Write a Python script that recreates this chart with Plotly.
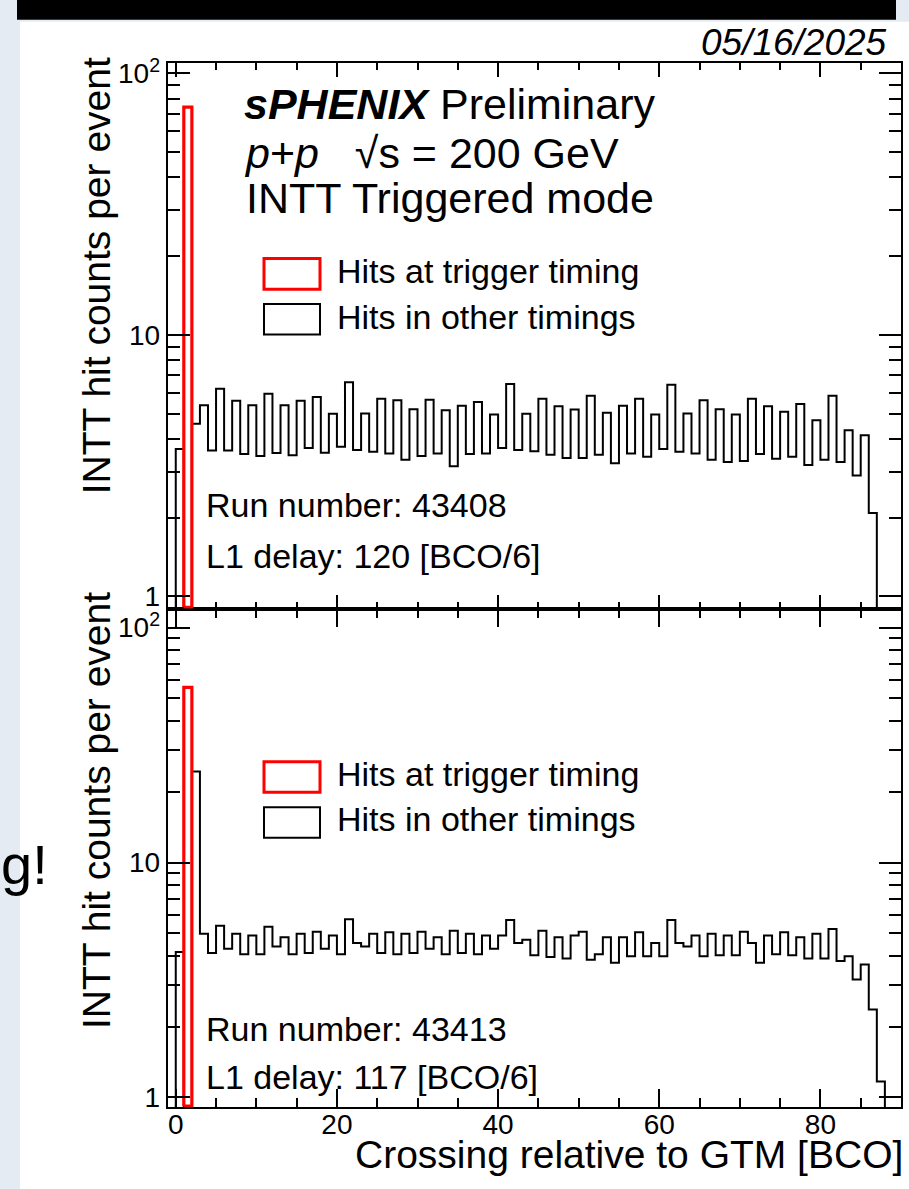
import plotly.graph_objects as go

W, H = 909, 1189

# ---------------- data ----------------
# bin k spans [k, k+1] in "Crossing relative to GTM [BCO]"
top_other_counts = [3.66, 0, 4.57, 5.38, 3.61, 6.22, 3.61, 5.60, 3.50, 5.38, 3.44, 5.95, 3.53, 5.38,
                    3.46, 5.60, 3.69, 5.78, 3.54, 4.99, 3.73, 6.59, 3.63, 5.00, 3.57, 5.70, 3.52, 5.62,
                    3.33, 5.19, 3.44, 5.65, 3.52, 5.15, 3.14, 5.35, 3.50, 5.54, 3.52, 4.96, 3.69, 6.49,
                    3.63, 4.99, 3.59, 5.70, 3.48, 5.33, 3.38, 5.18, 3.38, 5.85, 3.48, 5.03, 3.23, 5.36,
                    3.52, 5.70, 3.42, 4.96, 3.66, 6.44, 3.57, 5.00, 3.52, 5.62, 3.33, 5.19, 3.26, 4.96,
                    3.29, 5.70, 3.50, 5.33, 3.36, 5.08, 3.42, 5.44, 3.18, 4.71, 3.33, 5.85, 3.26, 4.32,
                    2.90, 4.13, 2.08]
bottom_other_counts = [4.16, 0, 24.4, 4.97, 4.12, 5.38, 4.30, 4.97, 4.07, 4.89, 4.07, 5.33, 4.39, 4.81,
                       4.07, 4.97, 4.12, 5.08, 4.30, 4.89, 4.07, 5.74, 4.54, 4.39, 4.97, 4.12, 5.05, 4.07,
                       4.97, 4.12, 5.08, 4.30, 4.81, 4.07, 5.13, 4.12, 4.97, 4.07, 4.89, 4.30, 4.89, 5.70,
                       4.54, 4.69, 4.03, 5.13, 3.96, 4.81, 3.90, 4.89, 5.08, 3.86, 4.07, 4.81, 3.74, 4.81,
                       3.99, 5.05, 3.99, 4.54, 3.99, 5.70, 4.54, 4.39, 4.89, 3.99, 4.97, 4.03, 4.89, 4.03,
                       5.08, 4.54, 3.74, 4.89, 4.07, 5.05, 4.03, 4.81, 3.90, 4.97, 3.90, 5.21, 3.81, 3.99,
                       3.18, 3.68, 2.37, 1.17]
trigger_bin = [1]
top_trigger_counts = [74.4]
bottom_trigger_counts = [55.6]

x_range = [-1, 90]
top_log_range = [-0.047, 2.039]
bottom_log_range = [-0.042, 2.081]
y_tickvals = [1, 10, 100]
y_ticktext = ["1", "10", "10<sup>2</sup>"]
y_minor_vals = [2, 3, 4, 5, 6, 7, 8, 9, 20, 30, 40, 50, 60, 70, 80, 90]

FONT = "Liberation Sans, Arial, Helvetica, sans-serif"
SLIDE = "#e4ebf2"


def px_x(p):   # window pixel -> paper fraction
    return p / W


def px_y(p):
    return 1 - p / H


def step_xy(counts, floor):
    xs = [0]
    ys = [floor]
    for k, c in enumerate(counts):
        xs.append(k)
        ys.append(c if c > 0 else floor)
    xs.append(len(counts))
    ys.append(floor)
    return xs, ys


def box_xy(bins, counts, bottom):
    xs, ys = [], []
    for b, c in zip(bins, counts):
        xs += [b, b, b + 1, b + 1, b, None]
        ys += [bottom, c, c, bottom, bottom, None]
    return xs, ys


fig = go.Figure()

floor = 0.05
for counts, trig, xa, ya, lr in [
    (top_other_counts, top_trigger_counts, "x2", "y2", top_log_range),
    (bottom_other_counts, bottom_trigger_counts, "x", "y", bottom_log_range),
]:
    sx, sy = step_xy(counts, floor)
    fig.add_trace(go.Scatter(x=sx, y=sy, mode="lines", line=dict(color="black", width=2, shape="hv"),
                             xaxis=xa, yaxis=ya, showlegend=False, hoverinfo="skip"))
    bx, by = box_xy(trigger_bin, trig, 10 ** (lr[0] + 0.005))
    fig.add_trace(go.Scatter(x=bx, y=by, mode="lines", line=dict(color="#ff0000", width=3.2),
                             xaxis=xa, yaxis=ya, showlegend=False, hoverinfo="skip"))

x_dom = [px_x(167.7), px_x(901)]
top_dom = [px_y(606.7), px_y(54)]
bot_dom = [px_y(1112.3), px_y(606.7)]

TICKFONT = dict(family=FONT, size=28, color="black")
common_x = dict(range=x_range, showline=True, linecolor="black", linewidth=2, mirror="ticks",
                ticks="inside", tickcolor="black", tickwidth=1.5, tick0=0, dtick=20,
                showgrid=False, zeroline=False, domain=x_dom, tickfont=TICKFONT)
common_y = dict(type="log", showline=True, linecolor="black", linewidth=2, mirror="ticks",
                ticks="inside", tickcolor="black", tickwidth=1.5, ticklen=22,
                tickmode="array", tickvals=y_tickvals, ticktext=y_ticktext,
                minor=dict(tickmode="array", tickvals=y_minor_vals, ticks="inside", ticklen=12,
                           tickcolor="black", tickwidth=1.5, showgrid=False),
                showgrid=False, zeroline=False, ticklabelstandoff=0, tickfont=TICKFONT)

fig.update_layout(
    width=W, height=H,
    margin=dict(l=0, r=0, t=0, b=0),
    paper_bgcolor="white",
    plot_bgcolor="white",
    xaxis=dict(common_x, anchor="y", ticklen=18, ticklabelstandoff=-9,
               minor=dict(dtick=5, ticks="inside", ticklen=9, tickcolor="black", tickwidth=1.5, showgrid=False)),
    yaxis=dict(common_y, anchor="x", domain=bot_dom, range=bottom_log_range),
    xaxis2=dict(common_x, anchor="y2", ticklen=14, showticklabels=False, matches="x",
                minor=dict(dtick=5, ticks="inside", ticklen=7, tickcolor="black", tickwidth=1.5, showgrid=False)),
    yaxis2=dict(common_y, anchor="x2", domain=top_dom, range=top_log_range),
)

shapes = []
# slide background around the pasted picture (left strip and top strip)
shapes.append(dict(type="rect", xref="paper", yref="paper", x0=-0.01, x1=px_x(20), y0=-0.01, y1=1.01,
                   fillcolor=SLIDE, line=dict(width=0), layer="below"))
shapes.append(dict(type="rect", xref="paper", yref="paper", x0=-0.01, x1=1.01, y0=px_y(12), y1=1.01,
                   fillcolor=SLIDE, line=dict(width=0), layer="below"))
# bottom of the cut-off slide title
shapes.append(dict(type="rect", xref="paper", yref="paper", x0=px_x(17), x1=px_x(896), y0=px_y(10), y1=1.01,
                   fillcolor="black", line=dict(width=0), layer="below"))

annotations = []


def text(s, x, y, size, xanchor="left", yanchor="middle", angle=0):
    annotations.append(dict(text=s, x=px_x(x), y=px_y(y), xref="paper", yref="paper",
                            xanchor=xanchor, yanchor=yanchor, showarrow=False, textangle=angle,
                            font=dict(family=FONT, size=size, color="black")))


# header
text("<i>05/16/2025</i>", 889, 33, 37, xanchor="right")
text("g!", 50, 866, 56, xanchor="right")

# top panel labels
text("<b><i>sPHENIX</i></b> Preliminary", 242, 95, 43)
text("<i>p</i>+<i>p</i>&nbsp;&nbsp;&nbsp;√s = 200 GeV", 242, 145, 43)
text("INTT Triggered mode", 244, 191, 43)

legend_labels = ["Hits at trigger timing", "Hits in other timings"]
legend_colors = ["#ff0000", "black"]
for y0, yc in [(252, 265), (762, 774)]:
    for i, (lab, col) in enumerate(zip(legend_labels, legend_colors)):
        top = y0 + i * 46
        shapes.append(dict(type="rect", xref="paper", yref="paper", x0=px_x(264), x1=px_x(320),
                           y0=px_y(top + 31), y1=px_y(top), line=dict(color=col, width=3 if i == 0 else 2),
                           fillcolor="rgba(0,0,0,0)"))
        text(lab, 335, yc + i * 46, 34)

text("Run number: 43408", 204, 502, 34)
text("L1 delay: 120 [BCO/6]", 204, 553, 34)
text("Run number: 43413", 204, 1033, 34)
text("L1 delay: 117 [BCO/6]", 204, 1082, 34)

text("INTT hit counts per event", 96, 270, 39, xanchor="center", angle=-90)
text("INTT hit counts per event", 96, 812, 39, xanchor="center", angle=-90)
text("Crossing relative to GTM [BCO]", 905, 1160, 39, xanchor="right")

fig.update_layout(shapes=shapes, annotations=annotations)
fig.write_html("out.html", config={"displayModeBar": False},
               post_script="document.body.style.margin='0px';")
